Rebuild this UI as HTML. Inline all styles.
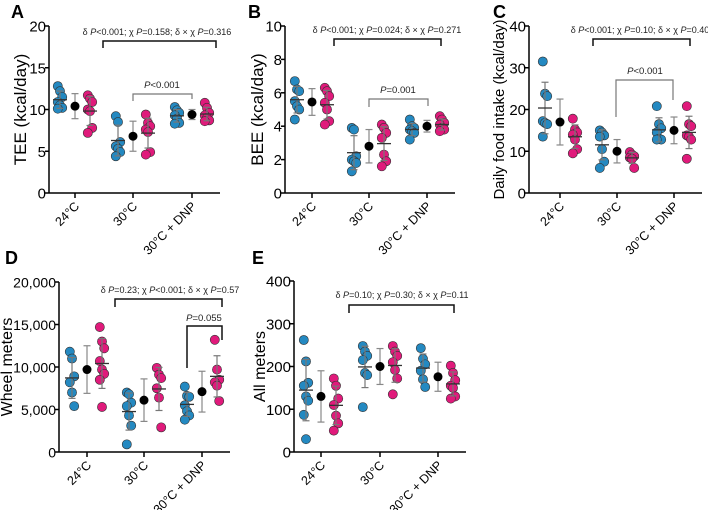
<!DOCTYPE html>
<html><head><meta charset="utf-8">
<style>
html,body{margin:0;padding:0;background:#fff;}
svg{display:block;font-family:"Liberation Sans",Arial,sans-serif;}
</style></head>
<body>
<svg id="fig" width="708" height="510" viewBox="0 0 708 510" xmlns="http://www.w3.org/2000/svg"></svg>
<script>
const categories = ["24°C","30°C","30°C + DNP"];
// Panel A - TEE
const teeBlue = [[12.8,12.2,11.5,10.9,10.5,10.2,10.1],[9.2,8.5,6.1,5.6,5.3,4.9,4.4],[10.3,9.9,9.6,9.3,8.9,8.4,8.3]];
const teePink = [[11.7,11.3,10.9,10.0,9.8,7.8,7.2],[9.4,8.4,8.0,7.6,7.3,4.9,4.6],[10.8,10.2,9.6,9.3,9.0,8.7,8.6]];
const teeMean = [10.4,6.8,9.4];
const teeSD = [1.5,1.8,0.6];
const teeTicks = [0,5,10,15,20];
// Panel B - BEE
const beeBlue = [[6.7,6.2,6.1,5.5,5.2,5.0,4.4],[3.9,3.8,2.2,2.0,1.9,1.8,1.3],[4.4,4.0,3.9,3.8,3.7,3.6,3.2]];
const beePink = [[6.3,6.1,5.8,5.4,5.0,4.3,4.1],[4.1,3.9,3.6,3.3,2.3,1.9,1.6],[4.6,4.4,4.2,4.1,3.9,3.8,3.7]];
const beeMean = [5.45,2.8,4.0];
const beeSD = [0.8,1.0,0.35];
const beeTicks = [0,2,4,6,8,10];
// Panel C - food intake
const foodBlue = [[31.5,23.8,23.2,17.2,16.8,16.5,13.5],[15.0,14.5,13.8,13.5,10.5,7.5,6.0],[20.8,16.5,15.5,14.5,13.0,12.8,12.8]];
const foodPink = [[17.8,15.2,14.5,14.0,12.8,10.5,9.5],[9.8,9.2,8.8,8.5,8.2,6.0],[20.8,16.5,16.0,13.8,13.5,12.8,8.2]];
const foodMean = [17,10,15];
const foodSD = [5.5,2.8,3.2];
const foodTicks = [0,10,20,30,40];
// Panel D - wheel meters
const wheelBlue = [[11800,11000,8900,8200,7000,5400],[7000,6800,5800,5400,4300,3100,900],[7700,6600,6500,5500,4800,4300,3800]];
const wheelPink = [[14700,13000,12200,10700,9700,9200,8500,5300],[9900,9100,8700,7500,6400,2900],[13200,9700,8500,8200,7800,6000]];
const wheelMean = [9700,6100,7100];
const wheelSD = [2800,2500,2400];
const wheelTicks = [0,5000,10000,15000,20000];
// Panel E - all meters
const allBlue = [[262,212,162,155,130,120,87,30],[248,235,225,215,185,180,105],[243,218,205,190,170,152]];
const allPink = [[172,155,125,110,85,67,50],[248,235,225,210,192,172,135],[202,185,168,155,150,130,125]];
const allMean = [130,200,176];
const allSD = [60,42,34];
const allTicks = [0,100,200,300,400];

const NS="http://www.w3.org/2000/svg";
const fig=document.getElementById('fig');
function mk(tag,attrs,parent){const e=document.createElementNS(NS,tag);for(const k in attrs)e.setAttribute(k,attrs[k]);(parent||fig).appendChild(e);return e;}
function fmt(v){return v>=1000?v.toLocaleString('en-US'):String(v);}
function meanOf(a){return a.reduce((s,v)=>s+v,0)/a.length;}
function sdOf(a){const m=meanOf(a);return Math.sqrt(a.reduce((s,v)=>s+(v-m)*(v-m),0)/(a.length-1));}

function panel(cfg){
  const g=mk('g',{});
  
  
  const max=cfg.ticks[cfg.ticks.length-1];
  const y=v=>cfg.y0-(v/max)*(cfg.y0-cfg.yTop);
  const xEnd=cfg.cx[2]+28;
  const lt=mk('text',{x:cfg.letter[0],y:cfg.letter[1],'font-size':18,'font-weight':'bold',fill:'#000'},g);
  lt.textContent=cfg.letterText;
  
  
  const yt=mk('text',{x:0,y:0,'font-size':cfg.titleSize,'text-anchor':'middle',fill:'#000',transform:`translate(${cfg.titleX},${(cfg.y0+cfg.yTop)/2}) rotate(-90)`},g);
  yt.textContent=cfg.title;
  
  
  const ya=mk('line',{x1:cfg.ax,y1:cfg.yTop,x2:cfg.ax,y2:cfg.y0,stroke:'#000','stroke-width':1.5},g);
  
  
  const xa=mk('line',{x1:cfg.ax,y1:cfg.y0,x2:xEnd,y2:cfg.y0,stroke:'#000','stroke-width':1.5},g);
  
  
  cfg.ticks.forEach(t=>{
    mk('line',{x1:cfg.ax-4,y1:y(t),x2:cfg.ax,y2:y(t),stroke:'#000','stroke-width':1.5},g);
    const tl=mk('text',{x:cfg.ax-3,y:y(t)+5.5,'font-size':cfg.tickSize,'text-anchor':'end',fill:'#000'},g);
    tl.textContent=fmt(t);
    
    
  });
  categories.forEach((c,i)=>{
    const x=cfg.cx[i];
    mk('line',{x1:x,y1:cfg.y0,x2:x,y2:cfg.y0+5,stroke:'#000','stroke-width':1.5},g);
    const cl=mk('text',{x:0,y:0,'font-size':12.5,'text-anchor':'end',fill:'#000',transform:`translate(${x+5},${cfg.y0+14}) rotate(-45)`},g);
    cl.textContent=c;
    
    
  });
  function group(vals,cx,color,nm){
    const m=meanOf(vals),s=sdOf(vals);
    vals.forEach((v,j)=>{
      const jx=cx+((j%3)-1)*2.2;
      const d=mk('circle',{cx:jx,cy:y(v),r:4.6,fill:color,stroke:'#333','stroke-width':0.6},g);
      
      
    });
    mk('line',{x1:cx,y1:y(m-s),x2:cx,y2:y(m+s),stroke:'#777','stroke-width':1.2},g);
    mk('line',{x1:cx-3.5,y1:y(m-s),x2:cx+3.5,y2:y(m-s),stroke:'#777','stroke-width':1.2},g);
    mk('line',{x1:cx-3.5,y1:y(m+s),x2:cx+3.5,y2:y(m+s),stroke:'#777','stroke-width':1.2},g);
    const ml=mk('line',{x1:cx-7,y1:y(m),x2:cx+7,y2:y(m),stroke:'#333','stroke-width':1.3},g);
    
    
  }
  categories.forEach((c,i)=>{
    group(cfg.blue[i],cfg.cx[i]-15,'#2489c1','blue');
    group(cfg.pink[i],cfg.cx[i]+15,'#e01a7b','pink');
    const cx=cfg.cx[i],m=cfg.mean[i],s=cfg.sd[i];
    mk('line',{x1:cx,y1:y(m-s),x2:cx,y2:y(m+s),stroke:'#888','stroke-width':1.2},g);
    mk('line',{x1:cx-3.5,y1:y(m-s),x2:cx+3.5,y2:y(m-s),stroke:'#888','stroke-width':1.2},g);
    mk('line',{x1:cx-3.5,y1:y(m+s),x2:cx+3.5,y2:y(m+s),stroke:'#888','stroke-width':1.2},g);
    const bd=mk('circle',{cx:cx,cy:y(m),r:4.5,fill:'#000'},g);
    
    
  });
  cfg.brackets.forEach(b=>{
    const p=mk('path',{d:`M${b.x1},${b.yl} L${b.x1},${b.y} L${b.x2},${b.y} L${b.x2},${b.yr}`,fill:'none',stroke:b.color,'stroke-width':b.w},g);
    
    
    const t=mk('text',{x:b.tx,y:b.ty,'font-size':b.fs,'text-anchor':'middle',fill:'#222'},g);
    t.innerHTML=b.html;
    
    
  });
}
const I='<tspan font-style="italic">P</tspan>';
panel({name:'panel-a-tee',letterText:'A',letter:[11,18],title:'TEE (kcal/day)',titleSize:17,titleX:26,tickSize:15,ax:49,yTop:26,y0:193,ticks:teeTicks,cx:[75,133,192],
  blue:teeBlue,pink:teePink,mean:teeMean,sd:teeSD,
  brackets:[{x1:103,x2:216,y:41,yl:48,yr:48,color:'#111',w:1.5,tx:157,ty:35,fs:9,html:`δ ${I}&lt;0.001; χ ${I}=0.158; δ × χ ${I}=0.316`},
            {x1:133,x2:192,y:94,yl:101,yr:99,color:'#777',w:1.2,tx:162,ty:88,fs:9.5,html:`${I}&lt;0.001`}]});
panel({name:'panel-b-bee',letterText:'B',letter:[248,18],title:'BEE (kcal/day)',titleSize:17,titleX:263,tickSize:15,ax:285,yTop:26,y0:193,ticks:beeTicks,cx:[312,369,427],
  blue:beeBlue,pink:beePink,mean:beeMean,sd:beeSD,
  brackets:[{x1:334,x2:441,y:39,yl:46,yr:46,color:'#111',w:1.5,tx:387,ty:33,fs:9,html:`δ ${I}&lt;0.001; χ ${I}=0.024; δ × χ ${I}=0.271`},
            {x1:369,x2:428,y:99,yl:107,yr:106,color:'#777',w:1.2,tx:398,ty:93,fs:9.5,html:`${I}=0.001`}]});
panel({name:'panel-c-food',letterText:'C',letter:[493,18],title:'Daily food intake (kcal/day)',titleSize:15,titleX:504,tickSize:15,ax:529,yTop:26,y0:193,ticks:foodTicks,cx:[560,617,674],
  blue:foodBlue,pink:foodPink,mean:foodMean,sd:foodSD,
  brackets:[{x1:593,x2:690,y:39,yl:46,yr:46,color:'#111',w:1.5,tx:640,ty:33,fs:9,html:`δ ${I}&lt;0.001; χ ${I}=0.10; δ × χ ${I}=0.40`},
            {x1:616,x2:673,y:80,yl:117,yr:100,color:'#777',w:1.2,tx:645,ty:74,fs:9.5,html:`${I}&lt;0.001`}]});
panel({name:'panel-d-wheel',letterText:'D',letter:[5,264],title:'Wheel meters',titleSize:16,titleX:12,tickSize:14,ax:59,yTop:282,y0:452,ticks:wheelTicks,cx:[87,144,202],
  blue:wheelBlue,pink:wheelPink,mean:wheelMean,sd:wheelSD,
  brackets:[{x1:115,x2:222,y:299,yl:307,yr:307,color:'#111',w:1.5,tx:170,ty:293,fs:9,html:`δ ${I}=0.23; χ ${I}&lt;0.001; δ × χ ${I}=0.57`},
            {x1:187,x2:222,y:326,yl:368,yr:340,color:'#111',w:1.5,tx:204,ty:321,fs:9.5,html:`${I}=0.055`}]});
panel({name:'panel-e-all',letterText:'E',letter:[252,264],title:'All meters',titleSize:16,titleX:265,tickSize:15,ax:294,yTop:281,y0:452,ticks:allTicks,cx:[321,380,438],
  blue:allBlue,pink:allPink,mean:allMean,sd:allSD,
  brackets:[{x1:349,x2:454,y:305,yl:313,yr:313,color:'#111',w:1.5,tx:402,ty:298,fs:9,html:`δ ${I}=0.10; χ ${I}=0.30; δ × χ ${I}=0.11`}]});
</script>
</body></html>
